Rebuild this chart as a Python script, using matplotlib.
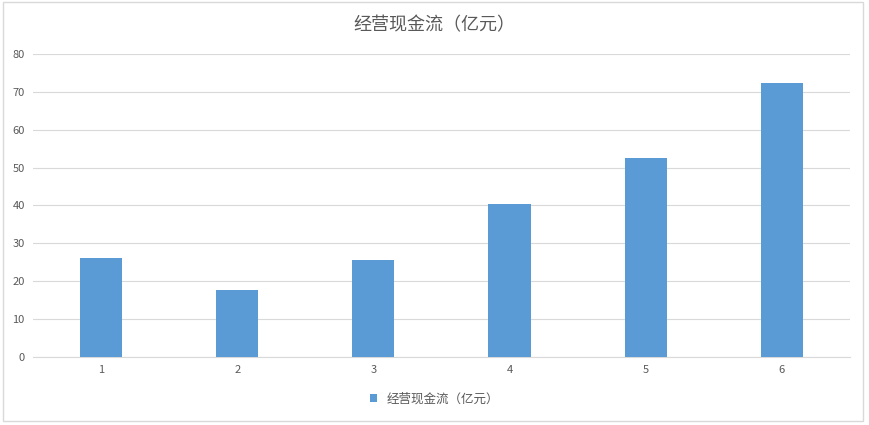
import matplotlib
matplotlib.use("Agg")
import matplotlib.pyplot as plt
from matplotlib.patches import Rectangle

plt.rcParams['font.family'] = ['Noto Sans CJK SC', 'DejaVu Sans']

categories = ['1', '2', '3', '4', '5', '6']
values = [26.1, 17.7, 25.6, 40.4, 52.5, 72.3]
yticks = [0, 10, 20, 30, 40, 50, 60, 70, 80]
color = '#5B9BD5'

fig = plt.figure(figsize=(8.69, 4.25), dpi=100)
fig.patches.append(Rectangle((0.003, 0.01), 0.99, 0.985, transform=fig.transFigure,
                             fill=False, edgecolor='#D9D9D9', linewidth=1))
ax = fig.add_axes([0.038, 0.16, 0.94, 0.713])
x = list(range(1, len(categories) + 1))
ax.bar(x, values, width=0.31, color=color, zorder=3, label='经营现金流（亿元）')
ax.set_xlim(0.5, 6.5)
ax.set_ylim(0, 80)
ax.set_yticks(yticks)
ax.set_xticks(x)
ax.set_xticklabels(categories)
ax.grid(axis='y', color='#D9D9D9', linewidth=0.8, zorder=0)
for s in ['top', 'right', 'left']:
    ax.spines[s].set_visible(False)
ax.spines['bottom'].set_color('#D9D9D9')
ax.tick_params(length=0, labelsize=8, colors='#595959', pad=6)
fig.text(0.5, 0.94, '经营现金流（亿元）', ha='center', va='center', fontsize=13, color='#595959')
fig.legend(loc='center', bbox_to_anchor=(0.5, 0.061), frameon=False, fontsize=9,
           handlelength=0.6, handleheight=0.6, labelcolor='#595959')
fig.savefig('out.png', dpi=100)
